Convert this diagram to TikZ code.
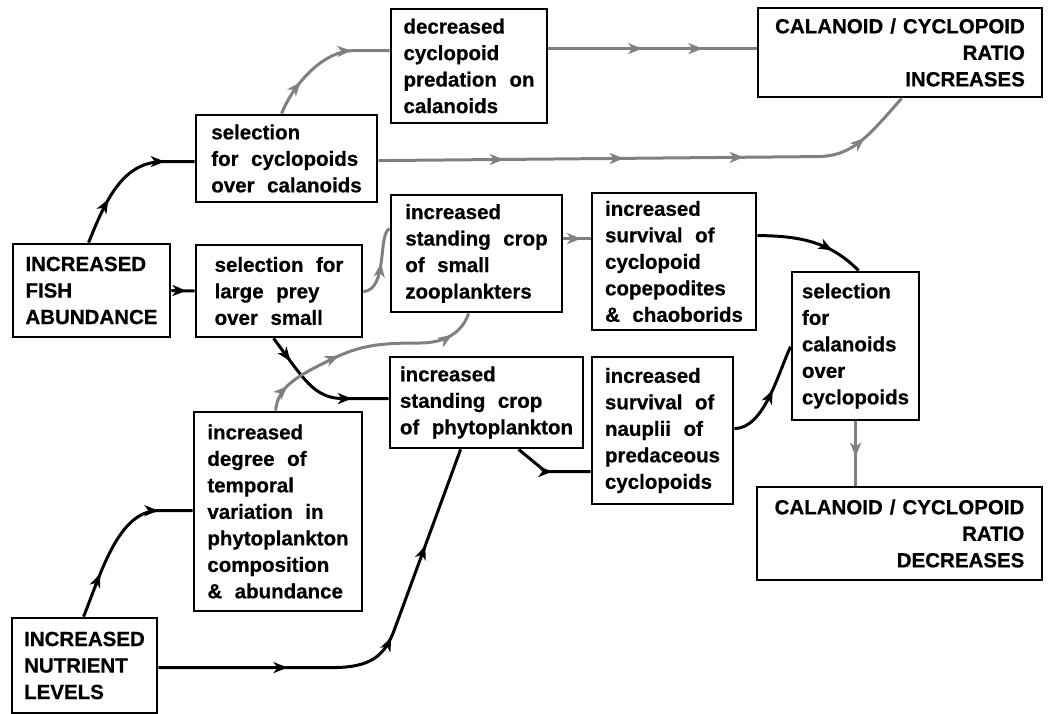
\documentclass[tikz,border=0pt]{standalone}
\usepackage{fontspec}
\setmainfont{Liberation Sans}[WordSpace=2.2, BoldFeatures={FakeBold=0.6}]
\usetikzlibrary{arrows.meta,decorations.markings}
\newcommand{\slashgap}{\hspace{7pt}/\hspace{7pt}}
\tikzset{
  box/.style={draw, line width=2.8pt, inner sep=0pt, align=left,
    font=\fontsize{20.5}{26.5}\selectfont\bfseries},
  rbox/.style={box, align=right},
  conn/.style={line width=3pt},
  blk/.style={conn, color=black},
  gry/.style={conn, color=black!50},
  midtip/.style={postaction={decorate,decoration={markings,
    mark=at position #1 with {\arrow{Stealth[length=14pt,width=11pt,inset=4pt]}}}}}
}
\begin{document}
\begin{tikzpicture}[x=1pt,y=-1pt]
\useasboundingbox (0,0) rectangle (1049,714);
% boxes
\node[box, minimum width=157pt, minimum height=93pt] (fish) at (91.5,290.5) {INCREASED\\FISH\\ABUNDANCE};
\node[box, minimum width=181pt, minimum height=87pt] (selcyc) at (286.5,158.5) {selection\\for cyclopoids\\over calanoids};
\node[box, minimum width=156pt, minimum height=114pt] (decr) at (469,66) {decreased\\cyclopoid\\predation on\\calanoids};
\node[box, minimum width=166pt, minimum height=92pt] (large) at (279,291) {selection for\\large prey\\over small};
\node[box, minimum width=171pt, minimum height=117pt] (small) at (476.5,253.5) {increased\\standing crop\\of small\\zooplankters};
\node[rbox, minimum width=284pt, minimum height=89pt] (incr) at (900,52.5) {CALANOID\slashgap CYCLOPOID\\RATIO\\INCREASES};
\node[box, minimum width=164pt, minimum height=137pt] (copep) at (674,261.5) {increased\\survival of\\cyclopoid\\copepodites\\\& chaoborids};
\node[box, minimum width=127pt, minimum height=148pt] (selcal) at (855.5,346) {selection\\for\\calanoids\\over\\cyclopoids};
\node[box, minimum width=193pt, minimum height=91pt] (phyto) at (486.5,402.5) {increased\\standing crop\\of phytoplankton};
\node[box, minimum width=141pt, minimum height=147pt] (naup) at (662.5,430.5) {increased\\survival of\\nauplii of\\predaceous\\cyclopoids};
\node[rbox, minimum width=285pt, minimum height=93pt] (dratio) at (899.5,533.5) {CALANOID\slashgap CYCLOPOID\\RATIO\\DECREASES};
\node[box, minimum width=168pt, minimum height=199pt] (temporal) at (278,511.5) {increased\\degree of\\temporal\\variation in\\phytoplankton\\composition\\\& abundance};
\node[box, minimum width=145pt, minimum height=95pt] (nutrient) at (84.5,665.5) {INCREASED\\NUTRIENT\\LEVELS};
% connector end points
\coordinate (f1) at ([xshift=77pt]fish.north west);
\coordinate (s1) at ([yshift=-48pt]selcyc.north west);
\coordinate (c3a) at ([xshift=87pt]selcyc.north west);
\coordinate (c3b) at ([yshift=-43pt]decr.north west);
\coordinate (c4) at ([yshift=-41pt]decr.north east);
\coordinate (c5) at ([yshift=-47pt]selcyc.north east);
\coordinate (c5b) at ([xshift=145pt]incr.south west);
\coordinate (c6a) at ([yshift=-48pt]large.north east);
\coordinate (c6b) at ([yshift=-35pt]small.north west);
\coordinate (c7) at ([yshift=-45pt]small.north east);
\coordinate (c8a) at ([yshift=-44pt]copep.north east);
\coordinate (c8b) at ([xshift=68pt]selcal.north west);
\coordinate (c9a) at ([xshift=79pt]large.south west);
\coordinate (c9b) at ([yshift=-43pt]phyto.north west);
\coordinate (c10a) at ([xshift=83pt]temporal.north west);
\coordinate (c10b) at ([xshift=79pt]small.south west);
\coordinate (c11a) at ([xshift=73pt]nutrient.north west);
\coordinate (c11b) at ([yshift=-100pt]temporal.north west);
\coordinate (c12a) at ([yshift=-51pt]nutrient.north east);
\coordinate (c12b) at ([xshift=72pt]phyto.south west);
\coordinate (c13a) at ([xshift=130pt]phyto.south west);
\coordinate (c13b) at ([yshift=-116pt]naup.north west);
\coordinate (c14a) at ([yshift=-73pt]naup.north east);
\coordinate (c14b) at ([yshift=-76pt]selcal.north west);
\coordinate (c15) at ([xshift=65pt]selcal.south west);
% connectors
\draw[blk, midtip=.32, midtip=.8] (f1) .. controls +(18,-45) and +(-40,0) .. ([xshift=-31pt]s1) -- (s1);
\draw[blk, midtip=.65] (fish.east) -- (large.west);
\draw[gry, midtip=.27, midtip=.72] (c3a) .. controls +(12,-30) and +(-30,0) .. ([xshift=-36pt]c3b) -- (c3b);
\draw[gry, midtip=.45, midtip=.74] (c4) -- (c4 -| incr.west);
\draw[gry, midtip=.23, midtip=.45, midtip=.67, midtip=.9] (c5) -- ([xshift=438pt,yshift=4pt]c5) .. controls +(35,0) and +(-35,40) .. (c5b);
\draw[gry, midtip=.5] (c6a) .. controls +(25,-2) and +(-12,5) .. (c6b);
\draw[gry, midtip=.65] (c7) -- (c7 -| copep.west);
\draw[blk, midtip=.7] (c8a) .. controls +(50,0) and +(-25,-25) .. (c8b);
\draw[blk, midtip=.2, midtip=.74] (c9a) .. controls +(30,40) and +(-30,0) .. ([xshift=-45pt]c9b) -- (c9b);
\draw[gry, midtip=.12, midtip=.38, midtip=.88] (c10a) .. controls +(2,-25) and +(-30,15) .. (330,360)
  .. controls +(30,-15) and +(-40,0) .. (420,343) .. controls +(30,0) and +(-5,15) .. (c10b);
\draw[blk, midtip=.27, midtip=.8] (c11a) .. controls +(18,-45) and +(-40,0) .. ([xshift=-34pt]c11b) -- (c11b);
\draw[blk, midtip=.29, midtip=.55, midtip=.77] (c12a) -- ([xshift=173pt]c12a) .. controls +(40,0) and +(-10,28) .. (395,628) -- (c12b);
\draw[blk, midtip=.52] (c13a) -- ([xshift=-45pt]c13b) -- (c13b);
\draw[blk, midtip=.55] (c14a) .. controls +(30,0) and +(-12,25) .. (c14b);
\draw[gry, midtip=.55] (c15) -- (c15 |- dratio.north);
\end{tikzpicture}
\end{document}
